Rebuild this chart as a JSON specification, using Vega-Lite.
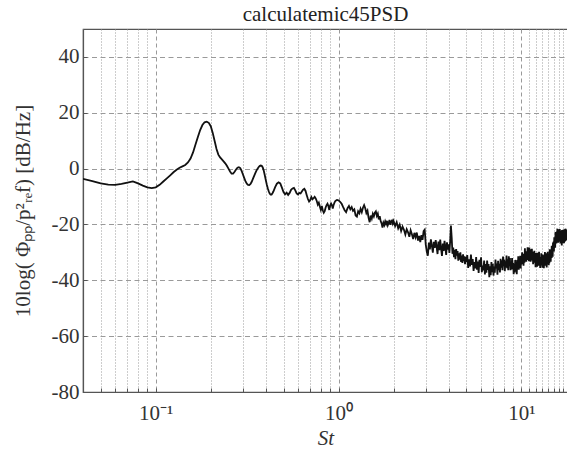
{
  "$schema": "https://vega.github.io/schema/vega-lite/v6.json",
  "width": 485,
  "height": 363,
  "autosize": "none",
  "padding": {"left": 83, "top": 29, "right": 0, "bottom": 61},
  "background": "white",
  "title": {"text": "calculatemic45PSD", "font": "Liberation Serif", "fontSize": 21, "fontWeight": "normal", "color": "#222", "anchor": "middle", "offset": 4},
  "config": {
    "view": {"stroke": "#555", "strokeWidth": 1.2},
    "axis": {"labelFont": "Liberation Serif", "titleFont": "Liberation Serif", "labelFontSize": 21, "titleFontSize": 21, "labelColor": "#333", "titleColor": "#333", "titleFontWeight": "normal", "domainColor": "#555", "domainWidth": 1.2, "tickColor": "#555", "gridColor": "#9a9a9a", "gridWidth": 1, "gridOpacity": 1}
  },
  "data": {"values": [
{"St":0.040,"dB":-3.7},{"St":0.045,"dB":-4.5},{"St":0.050,"dB":-5.3},{"St":0.055,"dB":-5.7},{"St":0.060,"dB":-5.8},{"St":0.065,"dB":-5.5},{"St":0.070,"dB":-5.0},{"St":0.075,"dB":-4.6},{"St":0.080,"dB":-5.3},{"St":0.085,"dB":-6.1},{"St":0.090,"dB":-6.7},{"St":0.095,"dB":-7.0},{"St":0.100,"dB":-6.7},{"St":0.105,"dB":-5.8},{"St":0.110,"dB":-4.6},{"St":0.115,"dB":-3.5},{"St":0.120,"dB":-2.4},{"St":0.125,"dB":-1.3},{"St":0.130,"dB":-0.4},{"St":0.135,"dB":0.3},{"St":0.140,"dB":0.8},{"St":0.145,"dB":1.3},{"St":0.150,"dB":2.2},{"St":0.155,"dB":3.6},{"St":0.160,"dB":5.8},{"St":0.165,"dB":8.6},{"St":0.170,"dB":11.3},{"St":0.175,"dB":13.8},{"St":0.180,"dB":15.6},{"St":0.185,"dB":16.6},{"St":0.190,"dB":16.8},{"St":0.195,"dB":16.4},{"St":0.200,"dB":15.2},{"St":0.205,"dB":12.8},{"St":0.210,"dB":9.9},{"St":0.215,"dB":7.0},{"St":0.220,"dB":5.0},{"St":0.225,"dB":4.0},{"St":0.230,"dB":3.3},{"St":0.235,"dB":2.6},{"St":0.240,"dB":1.9},{"St":0.245,"dB":1.0},{"St":0.250,"dB":0.0},{"St":0.255,"dB":-1.0},{"St":0.260,"dB":-1.8},{"St":0.265,"dB":-1.8},{"St":0.270,"dB":-1.1},{"St":0.275,"dB":-0.3},{"St":0.280,"dB":0.3},{"St":0.285,"dB":0.5},{"St":0.290,"dB":0.2},{"St":0.295,"dB":-0.8},{"St":0.300,"dB":-2.1},{"St":0.305,"dB":-3.4},{"St":0.310,"dB":-4.6},{"St":0.315,"dB":-5.4},{"St":0.320,"dB":-5.8},{"St":0.325,"dB":-5.9},{"St":0.330,"dB":-5.5},{"St":0.335,"dB":-4.7},{"St":0.340,"dB":-3.7},{"St":0.345,"dB":-2.7},{"St":0.350,"dB":-1.7},{"St":0.355,"dB":-0.8},{"St":0.360,"dB":-0.1},{"St":0.365,"dB":0.5},{"St":0.370,"dB":0.9},{"St":0.375,"dB":1.1},{"St":0.380,"dB":1.0},{"St":0.385,"dB":0.4},{"St":0.390,"dB":-0.8},{"St":0.395,"dB":-2.4},{"St":0.400,"dB":-4.1},{"St":0.405,"dB":-5.7},{"St":0.410,"dB":-7.0},{"St":0.415,"dB":-8.1},{"St":0.420,"dB":-8.9},{"St":0.425,"dB":-9.3},{"St":0.430,"dB":-9.3},{"St":0.435,"dB":-8.8},
{"St":0.44,"dB":-8.2},{"St":0.45,"dB":-6.6},{"St":0.46,"dB":-5.4},{"St":0.47,"dB":-4.9},{"St":0.48,"dB":-5.3},{"St":0.49,"dB":-6.8},{"St":0.50,"dB":-8.4},{"St":0.51,"dB":-9.2},{"St":0.52,"dB":-8.6},{"St":0.53,"dB":-9.4},{"St":0.54,"dB":-8.7},{"St":0.55,"dB":-7.6},{"St":0.56,"dB":-7.1},{"St":0.57,"dB":-6.9},{"St":0.58,"dB":-7.8},{"St":0.59,"dB":-8.9},{"St":0.60,"dB":-9.3},{"St":0.61,"dB":-8.7},{"St":0.62,"dB":-8.9},{"St":0.63,"dB":-8.2},{"St":0.64,"dB":-7.5},{"St":0.65,"dB":-7.2},{"St":0.66,"dB":-8.0},{"St":0.67,"dB":-9.5},{"St":0.68,"dB":-10.9},{"St":0.69,"dB":-11.8},{"St":0.70,"dB":-11.3},{"St":0.71,"dB":-10.2},{"St":0.72,"dB":-11.0},{"St":0.73,"dB":-10.6},{"St":0.74,"dB":-10.1},{"St":0.75,"dB":-10.7},{"St":0.76,"dB":-11.6},{"St":0.77,"dB":-12.9},{"St":0.78,"dB":-12.2},{"St":0.79,"dB":-13.6},{"St":0.80,"dB":-14.8},{"St":0.81,"dB":-13.4},{"St":0.82,"dB":-14.9},{"St":0.83,"dB":-15.8},{"St":0.84,"dB":-15.2},{"St":0.85,"dB":-13.9},{"St":0.86,"dB":-13.1},{"St":0.87,"dB":-12.6},{"St":0.88,"dB":-13.4},{"St":0.89,"dB":-14.8},{"St":0.90,"dB":-13.2},{"St":0.91,"dB":-12.5},{"St":0.92,"dB":-13.1},{"St":0.93,"dB":-14.3},{"St":0.94,"dB":-13.0},{"St":0.95,"dB":-12.2},{"St":0.96,"dB":-11.6},{"St":0.97,"dB":-11.4},{"St":0.98,"dB":-11.2},{"St":0.99,"dB":-11.3},{"St":1.00,"dB":-11.4},
{"St":1.02,"dB":-11.9},{"St":1.04,"dB":-12.6},{"St":1.06,"dB":-13.8},{"St":1.08,"dB":-14.9},{"St":1.10,"dB":-15.6},{"St":1.12,"dB":-14.2},{"St":1.14,"dB":-13.4},{"St":1.16,"dB":-14.6},{"St":1.18,"dB":-13.8},{"St":1.20,"dB":-15.1},{"St":1.22,"dB":-14.6},{"St":1.24,"dB":-16.8},{"St":1.26,"dB":-17.2},{"St":1.28,"dB":-15.3},{"St":1.30,"dB":-16.0},{"St":1.32,"dB":-14.4},{"St":1.34,"dB":-15.6},{"St":1.36,"dB":-14.0},{"St":1.38,"dB":-13.1},{"St":1.40,"dB":-14.2},{"St":1.42,"dB":-15.9},{"St":1.44,"dB":-15.1},{"St":1.46,"dB":-17.6},{"St":1.48,"dB":-19.2},{"St":1.50,"dB":-16.8},{"St":1.52,"dB":-17.9},{"St":1.54,"dB":-16.2},{"St":1.56,"dB":-17.1},{"St":1.58,"dB":-15.8},{"St":1.60,"dB":-15.3},{"St":1.62,"dB":-16.9},{"St":1.64,"dB":-16.1},{"St":1.66,"dB":-18.2},{"St":1.68,"dB":-17.0},{"St":1.70,"dB":-18.8},{"St":1.72,"dB":-19.6},{"St":1.74,"dB":-21.1},{"St":1.76,"dB":-19.4},{"St":1.78,"dB":-20.2},{"St":1.80,"dB":-18.9},{"St":1.82,"dB":-19.8},{"St":1.84,"dB":-18.7},{"St":1.86,"dB":-20.3},{"St":1.88,"dB":-19.5},{"St":1.90,"dB":-18.4},{"St":1.92,"dB":-20.1},{"St":1.94,"dB":-19.0},{"St":1.96,"dB":-18.6},{"St":1.98,"dB":-19.7},{"St":2.00,"dB":-18.8},
{"St":2.04,"dB":-20.6},{"St":2.08,"dB":-19.2},{"St":2.12,"dB":-21.4},{"St":2.16,"dB":-20.1},{"St":2.20,"dB":-22.3},{"St":2.24,"dB":-20.8},{"St":2.28,"dB":-21.9},{"St":2.32,"dB":-23.6},{"St":2.36,"dB":-21.7},{"St":2.40,"dB":-22.8},{"St":2.44,"dB":-24.4},{"St":2.48,"dB":-22.1},{"St":2.52,"dB":-23.5},{"St":2.56,"dB":-25.2},{"St":2.60,"dB":-23.0},{"St":2.64,"dB":-24.6},{"St":2.68,"dB":-22.9},{"St":2.72,"dB":-25.8},{"St":2.76,"dB":-24.1},{"St":2.80,"dB":-26.3},{"St":2.84,"dB":-23.8},{"St":2.88,"dB":-25.5},{"St":2.92,"dB":-22.4},{"St":2.96,"dB":-21.9},{"St":3.00,"dB":-27.2},{"St":3.04,"dB":-29.8},{"St":3.08,"dB":-31.2},{"St":3.12,"dB":-26.5},{"St":3.16,"dB":-28.9},{"St":3.20,"dB":-25.3},{"St":3.24,"dB":-27.7},{"St":3.28,"dB":-30.1},{"St":3.32,"dB":-26.2},{"St":3.36,"dB":-28.4},{"St":3.40,"dB":-25.6},{"St":3.44,"dB":-27.9},{"St":3.48,"dB":-30.6},{"St":3.52,"dB":-26.1},{"St":3.56,"dB":-29.2},{"St":3.60,"dB":-25.4},{"St":3.64,"dB":-28.7},{"St":3.68,"dB":-31.3},{"St":3.72,"dB":-26.8},{"St":3.76,"dB":-29.5},{"St":3.80,"dB":-25.9},{"St":3.84,"dB":-28.2},{"St":3.88,"dB":-30.9},{"St":3.92,"dB":-26.4},{"St":3.96,"dB":-29.0},{"St":4.00,"dB":-27.1},{"St":4.04,"dB":-30.2},{"St":4.08,"dB":-26.0},{"St":4.12,"dB":-20.4},{"St":4.16,"dB":-24.8},{"St":4.20,"dB":-30.5},{"St":4.24,"dB":-28.3},{"St":4.28,"dB":-31.7},{"St":4.32,"dB":-29.1},{"St":4.36,"dB":-32.4},{"St":4.40,"dB":-28.8},{"St":4.44,"dB":-31.2},{"St":4.48,"dB":-29.5},{"St":4.52,"dB":-33.0},{"St":4.56,"dB":-30.3},{"St":4.60,"dB":-32.6},{"St":4.64,"dB":-30.0},{"St":4.68,"dB":-33.4},{"St":4.72,"dB":-31.1},{"St":4.76,"dB":-33.8},{"St":4.80,"dB":-30.7},{"St":4.84,"dB":-33.1},{"St":4.88,"dB":-31.4},{"St":4.92,"dB":-34.2},{"St":4.96,"dB":-31.6},{"St":5.00,"dB":-33.5},
{"St":5.06,"dB":-31.0},{"St":5.12,"dB":-35.6},{"St":5.18,"dB":-32.5},{"St":5.24,"dB":-35.0},{"St":5.30,"dB":-30.8},{"St":5.36,"dB":-34.5},{"St":5.42,"dB":-32.4},{"St":5.48,"dB":-36.6},{"St":5.54,"dB":-33.5},{"St":5.60,"dB":-35.7},{"St":5.66,"dB":-31.7},{"St":5.72,"dB":-36.2},{"St":5.78,"dB":-33.3},{"St":5.84,"dB":-37.4},{"St":5.90,"dB":-32.7},{"St":5.96,"dB":-35.2},{"St":6.02,"dB":-31.8},{"St":6.08,"dB":-37.1},{"St":6.14,"dB":-34.7},{"St":6.20,"dB":-36.4},{"St":6.26,"dB":-32.9},{"St":6.32,"dB":-37.9},{"St":6.38,"dB":-34.2},{"St":6.44,"dB":-37.3},{"St":6.50,"dB":-32.9},{"St":6.56,"dB":-36.3},{"St":6.62,"dB":-34.2},{"St":6.68,"dB":-38.9},{"St":6.74,"dB":-35.0},{"St":6.80,"dB":-38.2},{"St":6.86,"dB":-33.5},{"St":6.92,"dB":-37.1},{"St":6.98,"dB":-34.1},{"St":7.04,"dB":-38.3},{"St":7.10,"dB":-35.1},{"St":7.16,"dB":-37.3},{"St":7.22,"dB":-32.6},{"St":7.28,"dB":-35.7},{"St":7.34,"dB":-34.0},{"St":7.40,"dB":-38.0},{"St":7.46,"dB":-33.0},{"St":7.52,"dB":-36.4},{"St":7.58,"dB":-34.1},{"St":7.64,"dB":-37.2},{"St":7.70,"dB":-32.3},{"St":7.76,"dB":-35.5},{"St":7.82,"dB":-32.8},{"St":7.88,"dB":-36.4},{"St":7.94,"dB":-31.5},{"St":8.00,"dB":-34.9},{"St":8.06,"dB":-32.6},{"St":8.12,"dB":-36.7},{"St":8.18,"dB":-33.2},{"St":8.24,"dB":-35.3},{"St":8.30,"dB":-31.1},{"St":8.36,"dB":-35.7},{"St":8.42,"dB":-32.5},{"St":8.48,"dB":-36.4},{"St":8.54,"dB":-31.4},{"St":8.60,"dB":-34.1},{"St":8.66,"dB":-32.0},{"St":8.72,"dB":-36.4},{"St":8.78,"dB":-33.9},{"St":8.84,"dB":-36.1},{"St":8.90,"dB":-32.0},{"St":8.96,"dB":-35.9},{"St":9.02,"dB":-33.7},{"St":9.08,"dB":-37.8},{"St":9.14,"dB":-34.4},{"St":9.20,"dB":-37.2},{"St":9.26,"dB":-32.7},{"St":9.32,"dB":-35.9},{"St":9.38,"dB":-33.4},{"St":9.44,"dB":-37.8},{"St":9.50,"dB":-32.7},{"St":9.56,"dB":-35.7},{"St":9.62,"dB":-31.4},{"St":9.68,"dB":-36.2},{"St":9.74,"dB":-33.4},{"St":9.80,"dB":-35.4},{"St":9.86,"dB":-31.2},{"St":9.92,"dB":-35.8},{"St":9.98,"dB":-31.9},
{"St":10.04,"dB":-34.3},{"St":10.10,"dB":-30.0},{"St":10.16,"dB":-33.1},{"St":10.22,"dB":-30.5},{"St":10.28,"dB":-34.8},{"St":10.34,"dB":-30.9},{"St":10.40,"dB":-33.7},{"St":10.46,"dB":-28.5},{"St":10.52,"dB":-32.2},{"St":10.58,"dB":-29.6},{"St":10.64,"dB":-33.3},{"St":10.70,"dB":-30.0},{"St":10.76,"dB":-32.2},{"St":10.82,"dB":-28.2},{"St":10.88,"dB":-32.7},{"St":10.94,"dB":-29.1},{"St":11.00,"dB":-33.2},{"St":11.06,"dB":-28.3},{"St":11.12,"dB":-31.0},{"St":11.18,"dB":-28.9},{"St":11.24,"dB":-33.3},{"St":11.30,"dB":-30.3},{"St":11.36,"dB":-32.9},{"St":11.42,"dB":-28.7},{"St":11.48,"dB":-32.6},{"St":11.54,"dB":-29.8},{"St":11.60,"dB":-34.2},{"St":11.66,"dB":-31.3},{"St":11.72,"dB":-33.7},{"St":11.78,"dB":-29.4},{"St":11.84,"dB":-33.0},{"St":11.90,"dB":-30.9},{"St":11.96,"dB":-35.3},{"St":12.02,"dB":-30.2},{"St":12.08,"dB":-33.8},{"St":12.14,"dB":-31.5},{"St":12.20,"dB":-35.1},{"St":12.26,"dB":-30.1},{"St":12.32,"dB":-33.0},{"St":12.38,"dB":-31.1},{"St":12.44,"dB":-34.8},{"St":12.50,"dB":-29.8},{"St":12.56,"dB":-33.8},{"St":12.62,"dB":-31.7},{"St":12.68,"dB":-35.6},{"St":12.74,"dB":-32.4},{"St":12.80,"dB":-34.7},{"St":12.86,"dB":-30.3},{"St":12.92,"dB":-33.8},{"St":12.98,"dB":-31.3},{"St":13.04,"dB":-35.5},{"St":13.10,"dB":-30.8},{"St":13.16,"dB":-34.3},{"St":13.22,"dB":-32.2},{"St":13.28,"dB":-35.7},{"St":13.34,"dB":-31.0},{"St":13.40,"dB":-33.5},{"St":13.46,"dB":-29.9},{"St":13.52,"dB":-34.8},{"St":13.58,"dB":-31.6},{"St":13.64,"dB":-34.2},{"St":13.70,"dB":-30.3},{"St":13.76,"dB":-35.4},{"St":13.82,"dB":-31.8},{"St":13.88,"dB":-34.2},{"St":13.94,"dB":-29.8},{"St":14.00,"dB":-33.2},{"St":14.06,"dB":-30.7},{"St":14.12,"dB":-34.6},{"St":14.18,"dB":-31.4},{"St":14.24,"dB":-33.9},{"St":14.30,"dB":-28.9},{"St":14.36,"dB":-32.2},{"St":14.42,"dB":-29.6},{"St":14.48,"dB":-33.3},{"St":14.54,"dB":-29.6},{"St":14.60,"dB":-32.0},{"St":14.66,"dB":-27.6},{"St":14.72,"dB":-31.8},{"St":14.78,"dB":-28.4},{"St":14.84,"dB":-31.6},{"St":14.90,"dB":-26.5},{"St":14.96,"dB":-29.2},{"St":15.02,"dB":-26.1},{"St":15.08,"dB":-29.7},{"St":15.14,"dB":-24.6},{"St":15.20,"dB":-27.3},{"St":15.26,"dB":-24.8},{"St":15.32,"dB":-28.3},{"St":15.38,"dB":-22.7},{"St":15.44,"dB":-26.4},{"St":15.50,"dB":-24.1},{"St":15.56,"dB":-26.8},{"St":15.62,"dB":-22.5},{"St":15.68,"dB":-25.1},{"St":15.74,"dB":-21.5},{"St":15.80,"dB":-25.9},{"St":15.86,"dB":-22.5},{"St":15.92,"dB":-26.5},{"St":15.98,"dB":-21.7},{"St":16.04,"dB":-24.4},{"St":16.10,"dB":-22.1},{"St":16.16,"dB":-26.2},{"St":16.22,"dB":-21.6},{"St":16.28,"dB":-25.1},{"St":16.34,"dB":-23.2},{"St":16.40,"dB":-26.8},{"St":16.46,"dB":-22.2},{"St":16.52,"dB":-25.9},{"St":16.58,"dB":-23.1},{"St":16.64,"dB":-27.5},{"St":16.70,"dB":-22.0},{"St":16.76,"dB":-25.4},{"St":16.82,"dB":-22.8},{"St":16.88,"dB":-26.7},{"St":16.94,"dB":-21.9},{"St":17.00,"dB":-25.4},{"St":17.06,"dB":-23.1},{"St":17.12,"dB":-26.7},{"St":17.18,"dB":-21.7},{"St":17.24,"dB":-25.4},{"St":17.30,"dB":-22.2},{"St":17.36,"dB":-26.1},{"St":17.42,"dB":-21.5},{"St":17.48,"dB":-24.4},{"St":17.54,"dB":-21.7},{"St":17.60,"dB":-25.7},{"St":17.66,"dB":-22.4},{"St":17.72,"dB":-25.4},{"St":17.78,"dB":-22.0},{"St":17.84,"dB":-25.1},{"St":17.90,"dB":-22.6},{"St":17.96,"dB":-24.8}
  ]},
  "mark": {"type": "line", "color": "#111", "strokeWidth": 1.8, "clip": true},
  "encoding": {
    "x": {"field": "St", "type": "quantitative",
      "scale": {"type": "log", "domain": [0.04, 18.0], "nice": false, "zero": false},
      "axis": {"title": "St", "titleFontStyle": "italic", "titlePadding": 4,
        "values": [0.04,0.05,0.06,0.07,0.08,0.09,0.1,0.2,0.3,0.4,0.5,0.6,0.7,0.8,0.9,1,2,3,4,5,6,7,8,9,10,11,12,13,14,15,16,17],
        "labelExpr": "datum.value == 0.1 ? '10⁻¹' : datum.value == 1 ? '10⁰' : datum.value == 10 ? '10¹' : ''",
        "labelOverlap": false, "labelPadding": 14, "tickSize": -4,
        "gridDash": {"condition": {"test": "datum.value == 0.1 || datum.value == 1 || datum.value == 10", "value": [4, 3]}, "value": [1, 2]}
      }},
    "y": {"field": "dB", "type": "quantitative",
      "scale": {"domain": [-80, 50], "nice": false, "zero": false},
      "axis": {"title": "10log( Φₚₚ/p²ᵣₑf) [dB/Hz]", "titlePadding": 18,
        "values": [-80,-60,-40,-20,0,20,40], "labelPadding": 8, "tickSize": -4,
        "labelExpr": "datum.value < 0 ? '-' + (-datum.value) : '' + datum.value",
        "gridDash": [5, 3.5]}}
  }
}
